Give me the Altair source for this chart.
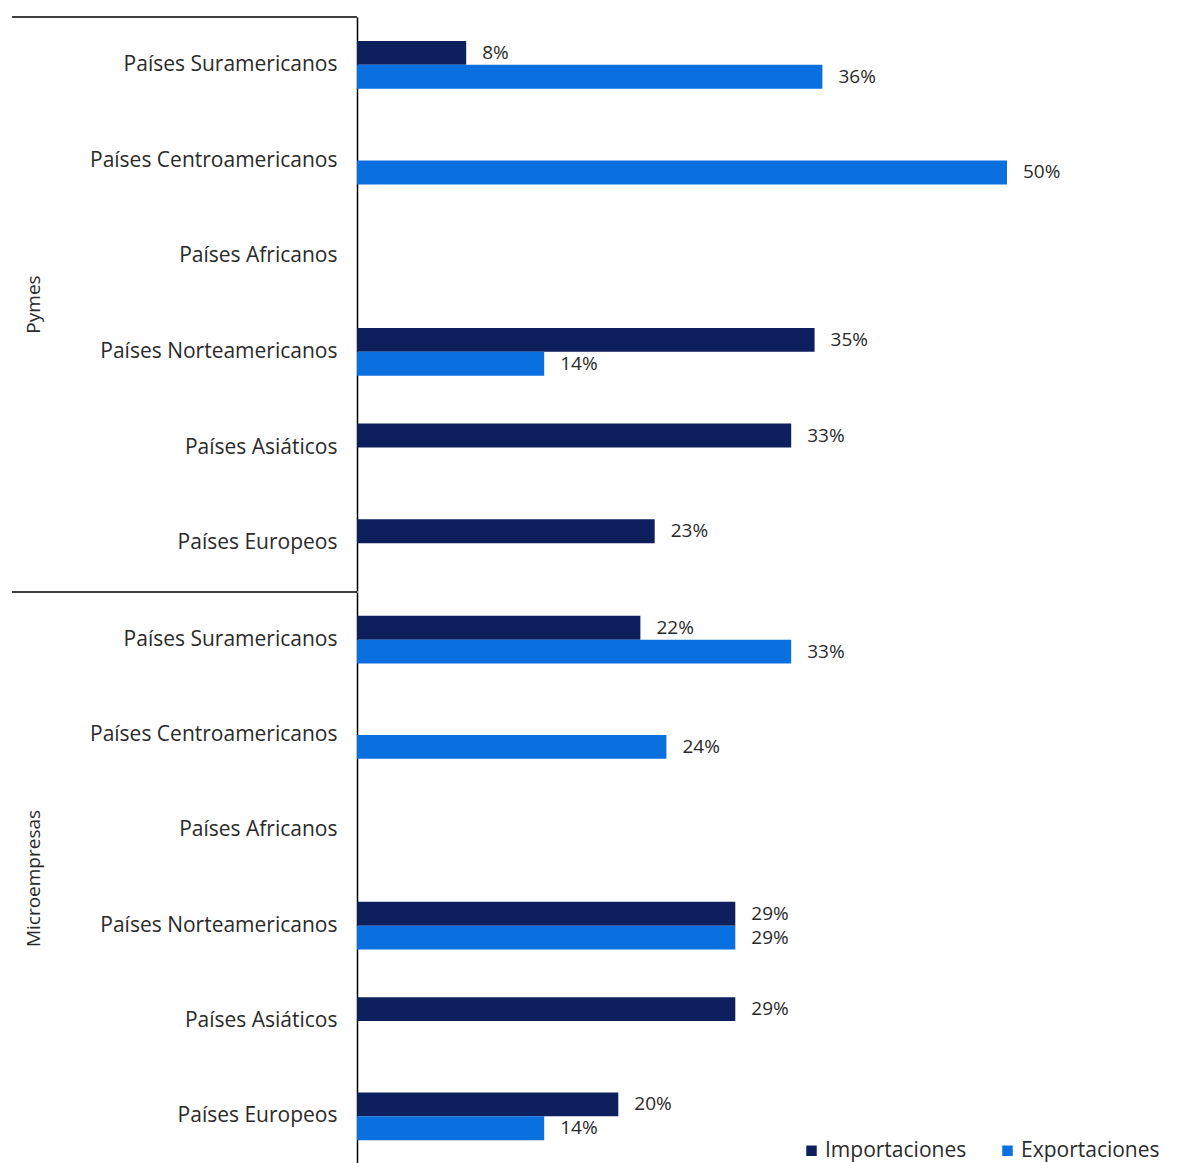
import altair as alt
import pandas as pd

categories = ["Países Suramericanos", "Países Centroamericanos", "Países Africanos",
              "Países Norteamericanos", "Países Asiáticos", "Países Europeos"]
series = ["Importaciones", "Exportaciones"]
groups = ["Pymes", "Microempresas"]

pymes_imp = [0.084, None, None, 0.352, 0.334, 0.229]
pymes_exp = [0.358, 0.50, None, 0.144, None, None]
micro_imp = [0.218, None, None, 0.291, 0.291, 0.201]
micro_exp = [0.334, 0.238, None, 0.291, None, 0.144]

colors = ["#0e1f5e", "#0a6fdf"]
FONT = "Open Sans"

rows = []
for g, imp, exp in [("Pymes", pymes_imp, pymes_exp), ("Microempresas", micro_imp, micro_exp)]:
    for c, vi, ve in zip(categories, imp, exp):
        if vi is not None:
            rows.append({"Grupo": g, "Categoria": c, "Serie": "Importaciones", "Valor": vi})
        if ve is not None:
            rows.append({"Grupo": g, "Categoria": c, "Serie": "Exportaciones", "Valor": ve})
df = pd.DataFrame(rows)
line_df = pd.DataFrame({"k": [0]})


def panel(group, height, show_legend):
    base = alt.Chart(df).transform_filter(alt.datum.Grupo == group)
    y = alt.Y("Categoria:N", sort=categories,
              scale=alt.Scale(domain=categories, paddingInner=0, paddingOuter=0),
              axis=alt.Axis(title=group, labelFont=FONT, labelFontSize=21, labelColor="#2a2a2a",
                            labelPadding=20, labelLimit=0, ticks=False, domainColor="#000000",
                            domainWidth=1.5,
                            titleFont=FONT, titleFontSize=19, titleFontWeight="normal",
                            titleColor="#2a2a2a", titleX=-324, titleY=height / 2,
                            titleAngle=270, titleAlign="center", titleBaseline="middle"))
    x = alt.X("Valor:Q", scale=alt.Scale(domain=[0, 0.62]), axis=None)
    yoff = alt.YOffset("Serie:N", sort=series,
                       scale=alt.Scale(domain=series, paddingInner=0, paddingOuter=1))
    if show_legend:
        legend = alt.Legend(title=None, orient="bottom-right", direction="horizontal",
                            symbolType="square", symbolSize=110, labelFont=FONT,
                            labelFontSize=21, labelColor="#2a2a2a", columnPadding=30,
                            labelOffset=3, offset=3, symbolStrokeWidth=0)
    else:
        legend = None
    color = alt.Color("Serie:N", scale=alt.Scale(domain=series, range=colors), legend=legend)
    bars = base.mark_bar().encode(x=x, y=y, yOffset=yoff, color=color)
    text = base.mark_text(align="left", baseline="middle", dx=16, font=FONT, fontSize=19,
                          color="#2a2a2a").encode(
        x=x, y=y, yOffset=yoff, text=alt.Text("Valor:Q", format=".0%"))
    rule = alt.Chart(line_df).mark_rule(color="#000000", strokeWidth=1.5).encode(
        x=alt.value(-345), x2=alt.value(0), y=alt.value(0))
    return alt.layer(bars, text, rule).properties(width=806, height=height)


chart = alt.vconcat(panel("Pymes", 574, False), panel("Microempresas", 572, True),
                    spacing=0).resolve_scale(
    y="independent", yOffset="independent", color="independent"
).resolve_legend(color="independent").properties(
    padding={"left": 3, "top": 8, "right": 0, "bottom": 0},
    background="#ffffff"
).configure_view(stroke=None, strokeWidth=0)

chart.save("out.html", embed_options={"renderer": "svg", "actions": False})
